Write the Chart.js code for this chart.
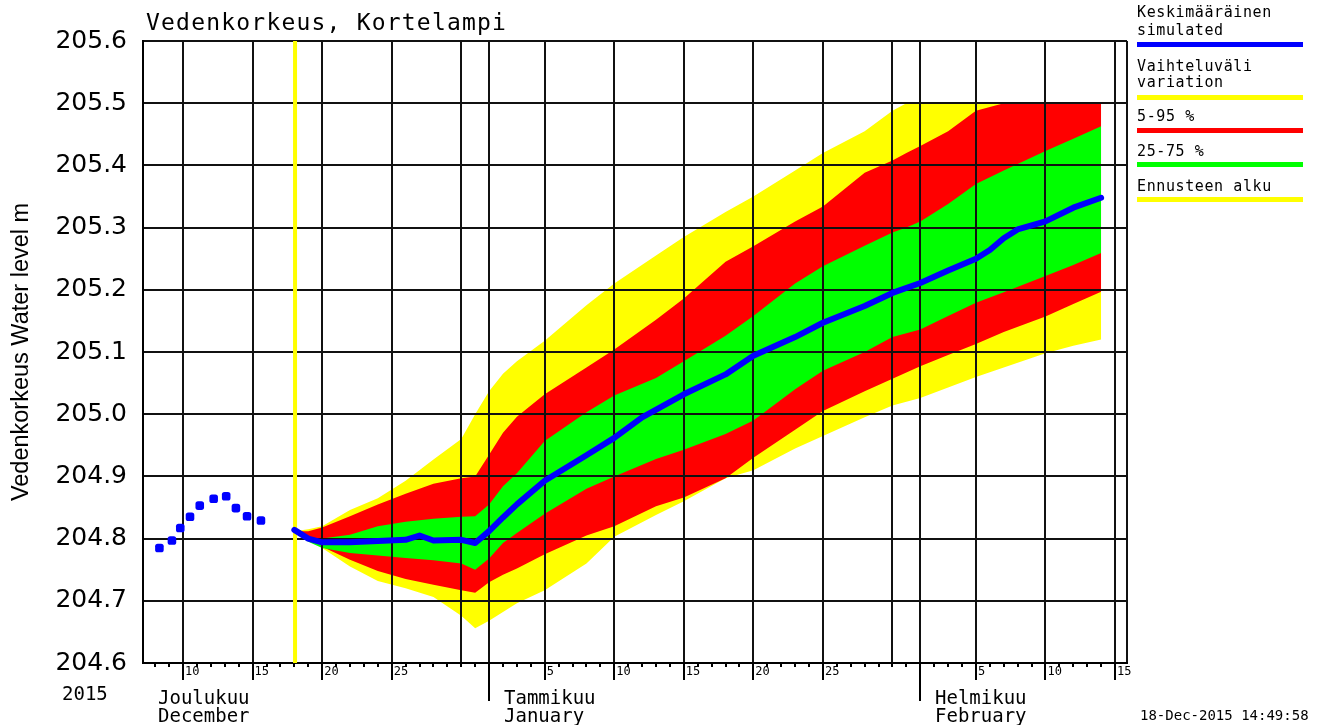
<!DOCTYPE html>
<html>
<head>
<meta charset="utf-8">
<script src="https://cdn.jsdelivr.net/npm/chart.js@4.4.1/dist/chart.umd.min.js"></script>
<style>
body{margin:0;background:#fff;}
#wrap{position:relative;width:1325px;height:725px;overflow:hidden;background:#fff;}
#c{position:absolute;left:0;top:0;}
.t{position:absolute;white-space:pre;font-family:"DejaVu Sans Mono",monospace;color:#000;line-height:1;}
.bar{position:absolute;left:1137px;width:166px;height:5px;}
</style>
</head>
<body>
<div id="wrap">
  <canvas id="c" width="1325" height="725"></canvas>

  <div class="t" style="left:146px;top:11px;font-size:23px;letter-spacing:1.2px">Vedenkorkeus, Kortelampi</div>

  <div class="t" style="left:1137px;top:5px;font-size:15px;letter-spacing:0.6px">Keskimääräinen</div>
  <div class="t" style="left:1137px;top:23px;font-size:15px;letter-spacing:0.6px">simulated</div>
  <div class="bar" style="top:42px;background:#0000ff"></div>
  <div class="t" style="left:1137px;top:59px;font-size:15px;letter-spacing:0.6px">Vaihteluväli</div>
  <div class="t" style="left:1137px;top:75px;font-size:15px;letter-spacing:0.6px">variation</div>
  <div class="bar" style="top:95px;background:#ffff00"></div>
  <div class="t" style="left:1137px;top:109px;font-size:15px;letter-spacing:0.6px">5-95 %</div>
  <div class="bar" style="top:128px;background:#ff0000"></div>
  <div class="t" style="left:1137px;top:144px;font-size:15px;letter-spacing:0.6px">25-75 %</div>
  <div class="bar" style="top:162px;background:#00ff00"></div>
  <div class="t" style="left:1137px;top:179px;font-size:15px;letter-spacing:0.6px">Ennusteen alku</div>
  <div class="bar" style="top:197px;background:#ffff00"></div>

  <div class="t" style="left:62px;top:684px;font-size:19px">2015</div>
  <div class="t" style="left:158px;top:688px;font-size:19px">Joulukuu</div>
  <div class="t" style="left:158px;top:706px;font-size:19px">December</div>
  <div class="t" style="left:504px;top:688px;font-size:19px">Tammikuu</div>
  <div class="t" style="left:504px;top:706px;font-size:19px">January</div>
  <div class="t" style="left:935px;top:688px;font-size:19px">Helmikuu</div>
  <div class="t" style="left:935px;top:706px;font-size:19px">February</div>
  <div class="t" style="left:1140px;top:708px;font-size:14px">18-Dec-2015 14:49:58</div>
</div>
<script>
// day index: 0 = 1 Dec 2015
const xMin = 6.12, xMax = 76.86;
const forecastStart = 17.05;
const yTicks = [204.6,204.7,204.8,204.9,205.0,205.1,205.2,205.3,205.4,205.5,205.6];

const gridDays = [9,14,19,24,29,31,35,40,45,50,55,60,62,66,71,76];
const monthStarts = [31,62];
const dayLabels = {9:"10",14:"15",19:"20",24:"25",35:"5",40:"10",45:"15",50:"20",55:"25",66:"5",71:"10",76:"15"};

// observed level in December
const obsDays  = [7.3,8.2,8.8,9.5,10.2,11.2,12.1,12.8,13.6,14.6];
const obsLevel = [204.785,204.797,204.817,204.835,204.853,204.864,204.868,204.849,204.836,204.829];

// forecast distribution
const bandDays = [17,18,19,21,23,25,27,29,30,31,32,33,35,38,40,43,45,48,50,53,55,58,60,61,62,64,66,68,71,73,75];
const maxLevel = [204.812,204.815,204.82,204.846,204.865,204.893,204.927,204.96,205.0,205.037,205.065,205.085,205.118,205.175,205.21,205.255,205.285,205.325,205.35,205.392,205.42,205.455,205.488,205.5,205.5,205.5,205.5,205.5,205.5,205.5,205.5];
const p95Level = [204.812,204.812,204.818,204.836,204.855,204.872,204.888,204.897,204.9,204.935,204.97,204.996,205.032,205.075,205.104,205.152,205.186,205.245,205.27,205.31,205.334,205.388,205.408,205.42,205.431,205.455,205.488,205.5,205.5,205.5,205.5];
const p75Level = [204.812,204.80,204.80,204.806,204.82,204.827,204.832,204.835,204.836,204.855,204.884,204.905,204.957,205.003,205.03,205.058,205.085,205.126,205.158,205.21,205.238,205.271,205.292,205.3,205.31,205.338,205.37,205.392,205.423,205.443,205.463];
const p25Level = [204.812,204.795,204.785,204.777,204.773,204.769,204.765,204.76,204.75,204.768,204.793,204.809,204.84,204.88,204.9,204.928,204.943,204.968,204.99,205.04,205.07,205.1,205.124,205.13,205.136,205.158,205.179,205.196,205.222,205.24,205.259];
const p5Level  = [204.812,204.797,204.787,204.766,204.748,204.735,204.726,204.717,204.713,204.73,204.742,204.752,204.775,204.805,204.82,204.852,204.866,204.897,204.93,204.975,205.005,205.037,205.057,205.067,205.077,205.095,205.113,205.132,205.157,205.177,205.197];
const minLevel = [204.812,204.8,204.785,204.755,204.732,204.72,204.706,204.676,204.656,204.668,204.682,204.696,204.717,204.76,204.803,204.838,204.86,204.897,204.91,204.945,204.965,204.995,205.014,205.02,205.026,205.043,205.06,205.075,205.098,205.11,205.12];

// simulated mean
const meanDays  = [17,18,19,21,23,25,26,27,29,30,31,32,33,35,38,40,42,45,48,50,53,55,58,60,62,64,66,67,68,69,71,73,75];
const meanLevel = [204.814,204.80,204.794,204.794,204.796,204.798,204.805,204.797,204.798,204.793,204.812,204.834,204.855,204.893,204.934,204.962,204.995,205.032,205.064,205.094,205.124,205.147,205.174,205.195,205.211,205.231,205.25,205.264,205.283,205.297,205.31,205.332,205.348];

const pts = (xs, ys) => xs.map((x, i) => ({x: x, y: ys[i]}));
const none = "rgba(0,0,0,0)";
const band = (ys, color, target, order) => ({
  data: pts(bandDays, ys), borderColor: none, borderWidth: 0, pointRadius: 0,
  backgroundColor: color, fill: target === null ? false : target, order: order
});

const align = (p, w) => Math.round(p - w / 2) + w / 2;

const tickMarks = {
  id: "tickMarks",
  afterDraw(chart) {
    const x = chart.scales.x, ctx = chart.ctx, y0 = chart.chartArea.bottom;
    ctx.save();
    ctx.strokeStyle = "#000";
    ctx.lineWidth = 2;
    for (let d = 7; d <= 76; d++) {
      let len = 4;
      if (dayLabels[d]) len = 17;
      if (monthStarts.includes(d)) len = 38;
      const px = align(x.getPixelForValue(d), 2);
      ctx.beginPath();
      ctx.moveTo(px, y0);
      ctx.lineTo(px, y0 + len);
      ctx.stroke();
    }
    ctx.restore();
  }
};

Chart.defaults.font.family = "DejaVu Sans";
Chart.defaults.color = "#000";

new Chart(document.getElementById("c"), {
  type: "line",
  data: {
    datasets: [
      {data: pts(meanDays, meanLevel), borderColor: "#0000ff", borderWidth: 6, pointRadius: 0,
       borderCapStyle: "round", borderJoinStyle: "round", fill: false, order: 1},
      {data: pts(obsDays, obsLevel), showLine: false, pointRadius: 5, pointStyle: "rectRounded",
       pointBackgroundColor: "#0000ff", pointBorderColor: "#0000ff", borderWidth: 0, fill: false, order: 2},
      {data: [{x: forecastStart, y: 204.6}, {x: forecastStart, y: 205.6}], borderColor: "#ffff00",
       borderWidth: 4, pointRadius: 0, fill: false, order: 3},
      band(maxLevel, "#ffff00", 4, 30),
      band(minLevel, "#ffff00", null, 31),
      band(p95Level, "#ff0000", 6, 20),
      band(p5Level, "#ff0000", null, 21),
      band(p75Level, "#00ff00", 8, 10),
      band(p25Level, "#00ff00", null, 11)
    ]
  },
  options: {
    responsive: false,
    animation: false,
    events: [],
    layout: {padding: {left: 0, right: 198, top: 41, bottom: 0}},
    plugins: {
      legend: {display: false},
      tooltip: {enabled: false},
      filler: {drawTime: "beforeDraw"}
    },
    scales: {
      x: {
        type: "linear", min: xMin, max: xMax,
        afterBuildTicks: axis => {
          const t = [];
          for (let d = 7; d <= 76; d++) t.push({value: d});
          t.push({value: xMax});
          axis.ticks = t;
        },
        afterFit: s => { s.height = 62; },
        ticks: {
          autoSkip: false, maxRotation: 0, align: "start", padding: 2, labelOffset: 2,
          font: {family: "DejaVu Sans Mono", size: 12},
          callback: v => dayLabels[v] || ""
        },
        grid: {
          drawTicks: false, lineWidth: 2,
          color: c => (gridDays.includes(c.tick.value) || c.tick.value === xMax) ? "#111" : none
        },
        border: {display: true, color: "#000", width: 2}
      },
      y: {
        type: "linear", min: 204.6, max: 205.6,
        afterBuildTicks: axis => { axis.ticks = yTicks.map(v => ({value: v})); },
        afterFit: s => { s.width = 143; },
        ticks: {padding: 16, font: {size: 25}, callback: v => v.toFixed(1)},
        grid: {drawTicks: false, lineWidth: 2, color: "#111"},
        border: {display: true, color: "#000", width: 2},
        title: {display: true, text: "Vedenkorkeus Water level m",
                font: {family: "Liberation Sans", size: 23.5}, padding: {top: 7, bottom: 0}}
      }
    }
  },
  plugins: [tickMarks]
});
</script>
</body>
</html>
